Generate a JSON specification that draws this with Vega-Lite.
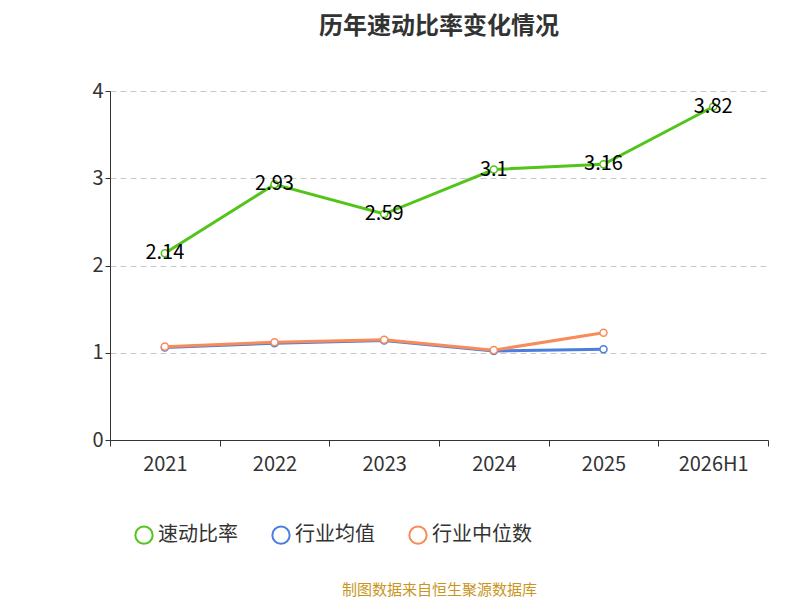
{
  "$schema": "https://vega.github.io/schema/vega-lite/v6.json",
  "width": 658,
  "height": 349,
  "autosize": {"type": "none"},
  "padding": {"left": 110, "top": 91, "right": 32, "bottom": 160},
  "background": "white",
  "title": {
    "text": "历年速动比率变化情况",
    "font": "Noto Sans CJK SC",
    "fontSize": 24,
    "fontWeight": "bold",
    "color": "#333333",
    "offset": 42,
    "anchor": "middle"
  },
  "config": {
    "font": "Noto Sans CJK SC",
    "view": {"stroke": null}
  },
  "data": {
    "values": [
      {"year": "2021", "series": "速动比率", "value": 2.14},
      {"year": "2022", "series": "速动比率", "value": 2.93},
      {"year": "2023", "series": "速动比率", "value": 2.59},
      {"year": "2024", "series": "速动比率", "value": 3.1},
      {"year": "2025", "series": "速动比率", "value": 3.16},
      {"year": "2026H1", "series": "速动比率", "value": 3.82},
      {"year": "2021", "series": "行业均值", "value": 1.06},
      {"year": "2022", "series": "行业均值", "value": 1.11},
      {"year": "2023", "series": "行业均值", "value": 1.14},
      {"year": "2024", "series": "行业均值", "value": 1.02},
      {"year": "2025", "series": "行业均值", "value": 1.04},
      {"year": "2021", "series": "行业中位数", "value": 1.07},
      {"year": "2022", "series": "行业中位数", "value": 1.12},
      {"year": "2023", "series": "行业中位数", "value": 1.15},
      {"year": "2024", "series": "行业中位数", "value": 1.03},
      {"year": "2025", "series": "行业中位数", "value": 1.23}
    ]
  },
  "encoding": {
    "x": {
      "field": "year",
      "type": "ordinal",
      "sort": ["2021", "2022", "2023", "2024", "2025", "2026H1"],
      "scale": {"paddingInner": 0, "paddingOuter": 0},
      "axis": {
        "title": "制图数据来自恒生聚源数据库",
        "titleColor": "#c8961e",
        "titleFontSize": 15,
        "titleFontWeight": "normal",
        "titlePadding": 108,
        "labelAngle": 0,
        "labelFontSize": 20,
        "labelColor": "#333333",
        "labelPadding": 8,
        "domainColor": "#333333",
        "tickColor": "#333333",
        "tickSize": 6,
        "tickBand": "extent"
      }
    },
    "y": {
      "field": "value",
      "type": "quantitative",
      "scale": {"domain": [0, 4]},
      "axis": {
        "title": null,
        "tickCount": 4,
        "labelFontSize": 20,
        "labelColor": "#333333",
        "domain": true,
        "domainColor": "#333333",
        "tickColor": "#333333",
        "gridDash": [6, 4],
        "gridColor": "#c8c8c8"
      }
    },
    "color": {
      "field": "series",
      "type": "nominal",
      "sort": ["速动比率", "行业均值", "行业中位数"],
      "scale": {
        "domain": ["速动比率", "行业均值", "行业中位数"],
        "range": ["#52c41a", "#4a7fe0", "#f98b5a"]
      },
      "legend": {
        "title": null,
        "orient": "none",
        "direction": "horizontal",
        "legendX": 24,
        "legendY": 434,
        "labelFontSize": 20,
        "labelColor": "#333333",
        "symbolType": "circle",
        "symbolSize": 300,
        "symbolFillColor": "white",
        "symbolStrokeWidth": 2,
        "columnPadding": 30
      }
    }
  },
  "layer": [
    {
      "mark": {"type": "line", "strokeWidth": 3}
    },
    {
      "mark": {"type": "point", "filled": false, "fill": "white", "fillOpacity": 1, "opacity": 1, "size": 50, "strokeWidth": 1.5}
    },
    {
      "transform": [{"filter": "datum.series == '速动比率'"}],
      "mark": {"type": "text", "fontSize": 20},
      "encoding": {
        "text": {"field": "value", "type": "quantitative"},
        "color": {"value": "black"}
      }
    }
  ]
}
